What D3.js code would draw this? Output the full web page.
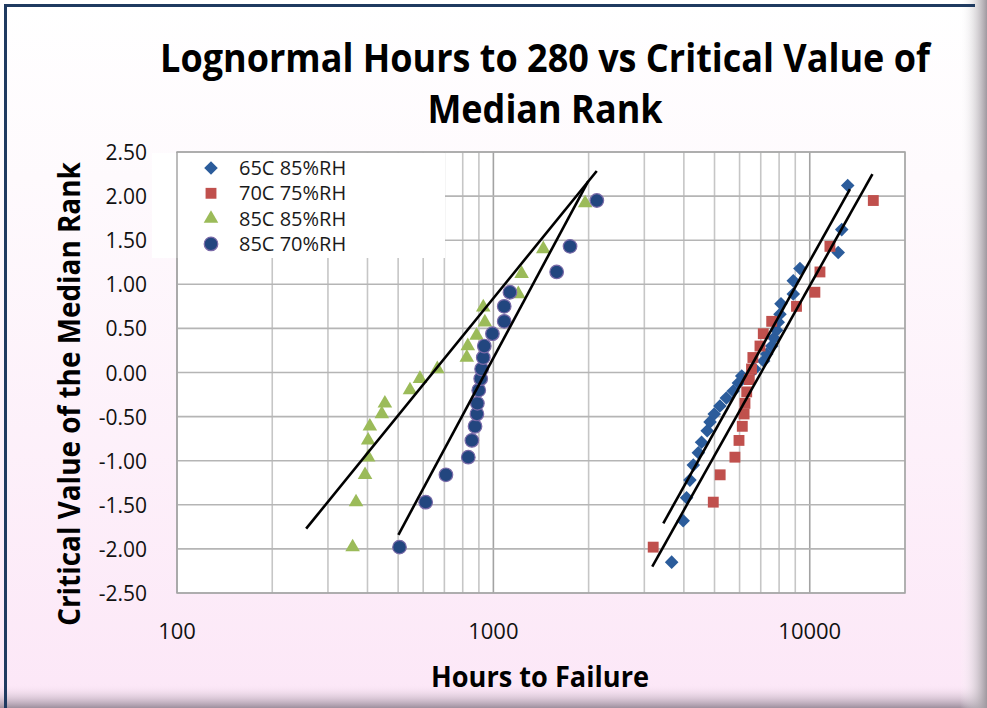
<!DOCTYPE html>
<html lang="en">
<head>
<meta charset="UTF-8">
<title>Lognormal Hours to 280 vs Critical Value of Median Rank</title>
<script src="https://d3js.org/d3.v7.min.js"></script>
<style>
  body { margin: 0; background: #fff; }
  svg { display: block; }
</style>
</head>
<body>
<div id="chart"></div>
<script>
// tick values
const xTicks = [100, 1000, 10000];
const yTicks = [-2.5, -2, -1.5, -1, -0.5, 0, 0.5, 1, 1.5, 2, 2.5];

// 65C 85%RH (diamonds)
const hours65c85 = [3660, 3980, 4080, 4180, 4285, 4445, 4550, 4740, 4840, 4990, 5200, 5450, 5730, 5950, 6095,
                    6700, 7150, 7310, 7585, 7700, 7855, 7950, 8050, 8110, 8870, 8870, 9310, 12300, 12620, 13180];
const rank65c85 = [-2.15, -1.68, -1.42, -1.22, -1.05, -0.91, -0.79, -0.66, -0.56, -0.47, -0.38, -0.29, -0.21, -0.12, -0.04,
                   0.04, 0.13, 0.21, 0.30, 0.39, 0.48, 0.57, 0.66, 0.78, 0.89, 1.04, 1.18, 1.36, 1.62, 2.12];

// 70C 75%RH (squares)
const hours70c75 = [3200, 4955, 5210, 5800, 5975, 6120, 6200, 6240, 6320, 6440,
                    6545, 6610, 6960, 7130, 7580, 9080, 10380, 10770, 11580, 15880];
const rank70c75 = [-1.98, -1.47, -1.16, -0.96, -0.77, -0.61, -0.47, -0.35, -0.22, -0.08,
                   0.04, 0.17, 0.30, 0.44, 0.58, 0.75, 0.91, 1.14, 1.43, 1.95];

// 85C 85%RH (triangles)
const hours85c85 = [359, 368, 393, 402, 402, 407, 444, 454, 545, 586,
                    665, 824, 830, 885, 940, 929, 1199, 1228, 1438, 1950];
const rank85c85 = [-1.98, -1.47, -1.16, -0.96, -0.77, -0.61, -0.47, -0.35, -0.20, -0.07,
                   0.04, 0.17, 0.30, 0.42, 0.57, 0.74, 0.89, 1.12, 1.40, 1.92];

// 85C 70%RH (circles)
const hours85c70 = [505, 611, 708, 833, 855, 875, 887, 890, 899, 912,
                    918, 929, 936, 993, 1082, 1082, 1128, 1585, 1747, 2123];
const rank85c70 = [-1.98, -1.47, -1.16, -0.96, -0.77, -0.61, -0.47, -0.35, -0.20, -0.07,
                   0.04, 0.17, 0.30, 0.44, 0.58, 0.75, 0.91, 1.14, 1.43, 1.95];

// trend lines: [hours, rank] at both ends
const trend65c85 = [[3444, -1.71], [13400, 2.08]];
const trend70c75 = [[3178, -2.20], [15780, 2.25]];
const trend85c85 = [[256, -1.77], [2122, 2.285]];
const trend85c70 = [[501, -1.84], [1995, 2.17]];

const series = [
  { name: "65C 85%RH", hours: hours65c85, rank: rank65c85, shape: "diamond", fill: "#2b5c9b", trend: trend65c85 },
  { name: "70C 75%RH", hours: hours70c75, rank: rank70c75, shape: "square", fill: "#c0504d", trend: trend70c75 },
  { name: "85C 85%RH", hours: hours85c85, rank: rank85c85, shape: "triangle", fill: "#9bbb59", trend: trend85c85 },
  { name: "85C 70%RH", hours: hours85c70, rank: rank85c70, shape: "circle", fill: "#22467f", trend: trend85c70 }
];

const W = 987, H = 708;
const plot = { left: 177, right: 905, top: 152, bottom: 593 };
const font = "'Open Sans', 'DejaVu Sans', sans-serif";

const svg = d3.select("#chart").append("svg")
  .attr("width", W)
  .attr("height", H);

const defs = svg.append("defs");
const bg = defs.append("linearGradient").attr("id", "bg").attr("x1", 0).attr("y1", 0).attr("x2", 0).attr("y2", 1);
bg.append("stop").attr("offset", "0%").attr("stop-color", "#ffffff");
bg.append("stop").attr("offset", "25%").attr("stop-color", "#fefafd");
bg.append("stop").attr("offset", "100%").attr("stop-color", "#fce7f7");
const shB = defs.append("linearGradient").attr("id", "shB").attr("x1", 0).attr("y1", 0).attr("x2", 0).attr("y2", 1);
shB.append("stop").attr("offset", "0%").attr("stop-color", "#fce7f7").attr("stop-opacity", 0);
shB.append("stop").attr("offset", "100%").attr("stop-color", "#9d8f9d");
const shR = defs.append("linearGradient").attr("id", "shR").attr("x1", 0).attr("y1", 0).attr("x2", 1).attr("y2", 0);
shR.append("stop").attr("offset", "0%").attr("stop-color", "#ffffff").attr("stop-opacity", 0);
shR.append("stop").attr("offset", "100%").attr("stop-color", "#9f989f");
defs.append("clipPath").attr("id", "clip").append("rect")
  .attr("x", plot.left).attr("y", plot.top)
  .attr("width", plot.right - plot.left).attr("height", plot.bottom - plot.top);

// chart background and frame
svg.append("rect").attr("width", W).attr("height", H).attr("fill", "url(#bg)");
svg.append("rect").attr("x", 0).attr("y", 684).attr("width", W).attr("height", 24).attr("fill", "url(#shB)");
svg.append("rect").attr("x", 960).attr("y", 0).attr("width", 27).attr("height", H).attr("fill", "url(#shR)");
svg.append("line").attr("x1", 5).attr("x2", 975).attr("y1", 5.5).attr("y2", 5.5)
  .attr("stroke", "#1f3a60").attr("stroke-width", 3);
svg.append("line").attr("x1", 5.5).attr("x2", 5.5).attr("y1", 4).attr("y2", H)
  .attr("stroke", "#1f3a60").attr("stroke-width", 3);

// scales
const x = d3.scaleLog().domain([100, 20000]).range([plot.left, plot.right]);
const y = d3.scaleLinear().domain([-2.5, 2.5]).range([plot.bottom, plot.top]);

svg.append("rect")
  .attr("x", plot.left).attr("y", plot.top)
  .attr("width", plot.right - plot.left).attr("height", plot.bottom - plot.top)
  .attr("fill", "#fff");

// gridlines
const gx = x.ticks();
svg.append("g").selectAll("line").data(gx).join("line")
  .attr("x1", d => x(d)).attr("x2", d => x(d))
  .attr("y1", plot.top).attr("y2", plot.bottom)
  .attr("stroke", d => (Math.log10(d) % 1 === 0 ? "#a3a3a3" : "#c6c6c6"))
  .attr("stroke-width", 1.6);
svg.append("g").selectAll("line").data(yTicks).join("line")
  .attr("x1", plot.left).attr("x2", plot.right)
  .attr("y1", d => y(d)).attr("y2", d => y(d))
  .attr("stroke", "#b5b5b5")
  .attr("stroke-width", 1.6);

// legend box (covers grid)
svg.append("rect").attr("x", 152).attr("y", 153).attr("width", 293).attr("height", 105).attr("fill", "#fff");

// plot border
svg.append("rect")
  .attr("x", plot.left).attr("y", plot.top)
  .attr("width", plot.right - plot.left).attr("height", plot.bottom - plot.top)
  .attr("fill", "none").attr("stroke", "#a6a6a6").attr("stroke-width", 1.5);
svg.append("rect").attr("x", 152).attr("y", 154).attr("width", 24).attr("height", 104).attr("fill", "#fff");

// marker shapes
function marker(shape) {
  if (shape === "diamond") return d3.symbol(d3.symbolSquare, 92)();
  if (shape === "square") return d3.symbol(d3.symbolSquare, 118)();
  if (shape === "triangle") return d3.symbol(d3.symbolTriangle, 92)();
  return d3.symbol(d3.symbolCircle, 145)();
}
function drawMarker(sel, s) {
  sel.attr("d", marker(s.shape))
    .attr("fill", s.fill)
    .attr("stroke", s.shape === "circle" ? "#7a6aa8" : "none")
    .attr("stroke-width", s.shape === "circle" ? 1.2 : 0);
}

const dataG = svg.append("g").attr("clip-path", "url(#clip)");
series.forEach(s => {
  const pts = s.hours.map((h, i) => [h, s.rank[i]]);
  dataG.append("g").selectAll("path").data(pts).join("path")
    .call(drawMarker, s)
    .attr("transform", d => `translate(${x(d[0])},${y(d[1])})${s.shape === "diamond" ? " rotate(45)" : ""}`);
});

// trend lines on top
const line = d3.line().x(d => x(d[0])).y(d => y(d[1]));
series.forEach(s => {
  dataG.append("path").attr("d", line(s.trend))
    .attr("fill", "none").attr("stroke", "#000").attr("stroke-width", 2.6);
});

// axis labels
svg.append("g").selectAll("text").data(xTicks).join("text")
  .attr("x", d => x(d)).attr("y", 639)
  .attr("text-anchor", "middle")
  .attr("font-family", font).attr("font-size", 22).attr("fill", "#111")
  .text(d => d);
svg.append("g").selectAll("text").data(yTicks).join("text")
  .attr("x", 147).attr("y", d => y(d) + 8)
  .attr("text-anchor", "end")
  .attr("font-family", font).attr("font-size", 21).attr("fill", "#111")
  .text(d => d.toFixed(2));

// legend
const leg = svg.append("g");
series.forEach((s, i) => {
  const ly = 168 + i * 25.3;
  leg.append("path").call(drawMarker, s)
    .attr("transform", `translate(211,${ly})${s.shape === "diamond" ? " rotate(45)" : ""}`);
  leg.append("text").attr("x", 239).attr("y", ly + 7)
    .attr("font-family", font).attr("font-size", 20).attr("fill", "#1a1a1a")
    .text(s.name);
});

// titles: bold, squeezed horizontally like the narrow original face
function title(str, tx, ty, size, sx, rot) {
  svg.append("g")
    .attr("transform", `translate(${tx},${ty})${rot ? " rotate(-90)" : ""} scale(${sx},1)`)
    .append("text").attr("text-anchor", "middle")
    .attr("font-family", font).attr("font-weight", "bold").attr("font-size", size).attr("fill", "#000")
    .text(str);
}
title("Lognormal Hours to 280 vs Critical Value of", 545, 72, 40, 0.90);
title("Median Rank", 545, 123, 40, 0.90);
title("Hours to Failure", 540, 687, 28, 0.97);
title("Critical Value of the Median Rank", 80, 394, 30, 0.93, true);
</script>
</body>
</html>
